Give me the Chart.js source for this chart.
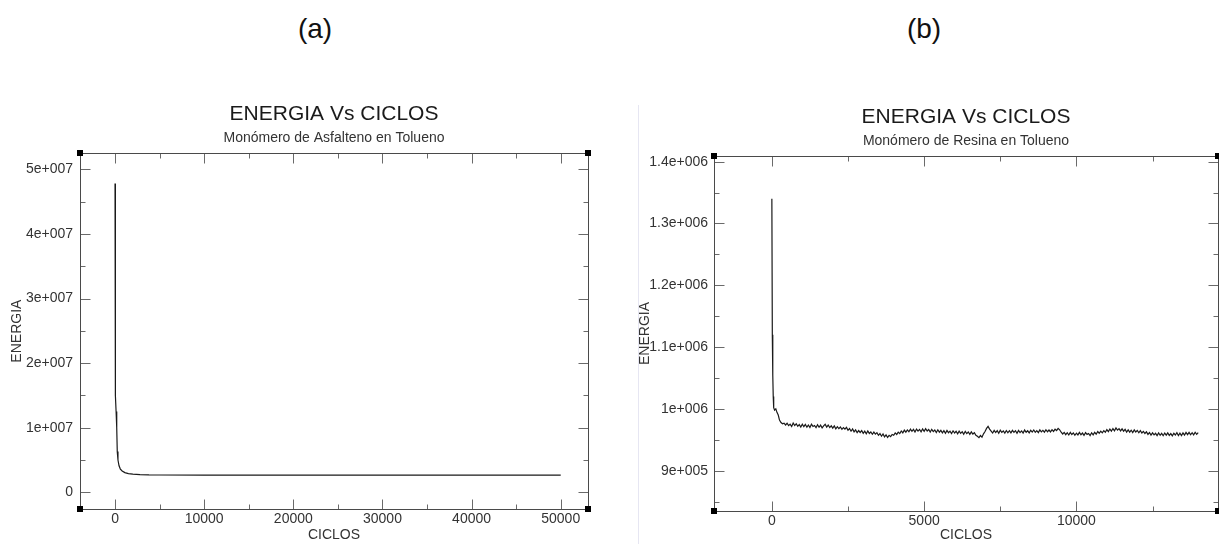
<!DOCTYPE html>
<html lang="es">
<head>
<meta charset="utf-8">
<title>ENERGIA Vs CICLOS</title>
<script src="https://cdn.jsdelivr.net/npm/chart.js@4.4.1/dist/chart.umd.min.js"></script>
<style>
  body { margin: 0; background: #fff; font-family: "Liberation Sans", Arial, sans-serif; }
  .page { position: relative; width: 1219px; height: 544px; overflow: hidden; }
  .panel-label {
    position: absolute;
    top: 15px;
    font-size: 28px;
    line-height: 28px;
    color: #111;
    transform: translateX(-50%);
  }
  .chart-box { position: absolute; top: 90px; }
  .chart-box canvas { display: block; }
  /* borde tenue del recorte de la figura (b) */
  .divisor { position: absolute; left: 638px; top: 105px; width: 1px; height: 439px; background: #e6e6f2; }
</style>
</head>
<body>
<div class="page">
  <div class="panel-label" style="left:315px">(a)</div>
  <div class="panel-label" style="left:924px">(b)</div>
  <div class="divisor"></div>
  <div class="chart-box" style="left:0"><canvas id="energiaAsfalteno" width="610" height="454"></canvas></div>
  <div class="chart-box" style="left:610px"><canvas id="energiaResina" width="609" height="454"></canvas></div>
</div>
<script>
  const FUENTE = '"Liberation Sans", Arial, sans-serif';

  // (a) Monómero de Asfalteno en Tolueno
  const ciclosAsfalteno = [0, 20, 60, 120, 190, 250, 330, 450, 600, 800, 1100, 1500, 2000, 2800, 3800, 5000, 10000, 20000, 30000, 40000, 50000];
  const energiaAsfalteno = [47800000, 22000000, 15000000, 12500000, 10000000, 6300000, 5000000, 4100000, 3600000, 3300000, 3050000, 2900000, 2820000, 2750000, 2700000, 2680000, 2670000, 2660000, 2650000, 2650000, 2650000];
  const ticksXAsfalteno = [0, 10000, 20000, 30000, 40000, 50000];
  const ticksYAsfalteno = [0, 10000000, 20000000, 30000000, 40000000, 50000000];

  // (b) Monómero de Resina en Tolueno
  const ciclosResina = [
    0, 15, 30, 45, 60, 90, 130, 170, 210, 250, 300, 350, 400, 450,
    500, 550, 600, 650, 700, 750, 800, 850, 900, 950,
    1000, 1050, 1100, 1150, 1200, 1250, 1300, 1350, 1400, 1450,
    1500, 1550, 1600, 1650, 1700, 1750, 1800, 1850, 1900, 1950,
    2000, 2050, 2100, 2150, 2200, 2250, 2300, 2350, 2400, 2450,
    2500, 2550, 2600, 2650, 2700, 2750, 2800, 2850, 2900, 2950,
    3000, 3050, 3100, 3150, 3200, 3250, 3300, 3350, 3400, 3450,
    3500, 3550, 3600, 3650, 3700, 3750, 3800, 3850, 3900, 3950,
    4000, 4050, 4100, 4150, 4200, 4250, 4300, 4350, 4400, 4450,
    4500, 4550, 4600, 4650, 4700, 4750, 4800, 4850, 4900, 4950,
    5000, 5050, 5100, 5150, 5200, 5250, 5300, 5350, 5400, 5450,
    5500, 5550, 5600, 5650, 5700, 5750, 5800, 5850, 5900, 5950,
    6000, 6050, 6100, 6150, 6200, 6250, 6300, 6350, 6400, 6450,
    6500, 6550, 6600, 6650, 6700, 6750, 6800, 6850, 6900, 6950,
    7000, 7050, 7100, 7150, 7200, 7250, 7300, 7350, 7400, 7450,
    7500, 7550, 7600, 7650, 7700, 7750, 7800, 7850, 7900, 7950,
    8000, 8050, 8100, 8150, 8200, 8250, 8300, 8350, 8400, 8450,
    8500, 8550, 8600, 8650, 8700, 8750, 8800, 8850, 8900, 8950,
    9000, 9050, 9100, 9150, 9200, 9250, 9300, 9350, 9400, 9450,
    9500, 9550, 9600, 9650, 9700, 9750, 9800, 9850, 9900, 9950,
    10000, 10050, 10100, 10150, 10200, 10250, 10300, 10350, 10400, 10450,
    10500, 10550, 10600, 10650, 10700, 10750, 10800, 10850, 10900, 10950,
    11000, 11050, 11100, 11150, 11200, 11250, 11300, 11350, 11400, 11450,
    11500, 11550, 11600, 11650, 11700, 11750, 11800, 11850, 11900, 11950,
    12000, 12050, 12100, 12150, 12200, 12250, 12300, 12350, 12400, 12450,
    12500, 12550, 12600, 12650, 12700, 12750, 12800, 12850, 12900, 12950,
    13000, 13050, 13100, 13150, 13200, 13250, 13300, 13350, 13400, 13450,
    13500, 13550, 13600, 13650, 13700, 13750, 13800, 13850, 13900, 13950,
    14000
  ];
  const energiaResina = [
    1340000, 1120000, 1055000, 1020000, 1002000, 998000, 1000000, 994000, 990000, 982000, 978000, 976000, 977000, 974000,
    976800, 972900, 975400, 971600, 977200, 973000, 975900, 971800, 974600, 970700,
    975100, 971200, 974800, 970400, 973900, 969800, 975300, 971700, 973200, 969600,
    974500, 970300, 973800, 969400, 972700, 975100, 970600, 973900, 969800, 972600,
    968900, 972400, 967800, 971300, 968100, 970700, 966900, 969800, 967200, 970100,
    965400, 968300, 963900, 967600, 962800, 966100, 961700, 965000, 961900, 964800,
    960500, 963900, 959800, 964200, 960300, 962700, 958900, 962400, 959100, 961600,
    957300, 960200, 955800, 959400, 954600, 957900, 953800, 957100, 955000, 958600,
    957400, 961200, 958700, 962500, 960100, 964300, 961200, 965700, 962400, 966000,
    963100, 967200, 963800, 966900, 962700, 967400, 964000, 966800, 962900, 967500,
    963600, 968100, 964200, 966700, 962500, 967000, 963300, 965900, 961800, 966200,
    962400, 965300, 961100, 964900, 960700, 965200, 961500, 964000, 960200, 964600,
    961000, 963800, 959600, 964100, 960400, 963200, 959100, 963700, 960000, 962600,
    958800, 962900, 959300, 961400, 957200, 955600, 953400, 956900, 954200, 959700,
    963500, 968400, 971600, 967300, 964100, 961000, 965200, 961800, 964900, 960700,
    965600, 962100, 964300, 960900, 965000, 961400, 964700, 961200, 965300, 962000,
    964800, 960600, 965100, 961700, 964400, 961000, 965800, 962200, 964600, 961300,
    965400, 962500, 965900, 962000, 964700, 961600, 966100, 962800, 965200, 962400,
    966300, 963000, 965800, 962700, 966400, 963500, 967100, 965000, 968600, 966200,
    962300, 959400, 962000, 958300, 961500, 957800, 961900, 958600, 961200, 957400,
    960800, 957900, 962100, 958200, 960900, 957100, 961600, 958800, 960300, 956900,
    961400, 958000, 962200, 959100, 963400, 960600, 964000, 961200, 964900, 962300,
    966500, 963200, 967400, 964100, 968200, 964600, 969300, 965700, 968100, 964400,
    967800, 964000, 966900, 962500, 966100, 962300, 965500, 961800, 966000, 962600,
    965200, 961400, 964800, 961000, 963700, 960200, 962900, 958700, 961800, 957600,
    961200, 957900, 960500, 956800, 961000, 957300, 960400, 956600, 960900, 957500,
    961300, 957200, 960100, 956400, 960600, 957800, 961500, 957000, 960800, 956900,
    961200, 957600, 961900, 958300, 962000, 958100, 961400, 957900, 962200, 958800,
    961600
  ];
  const ticksXResina = [0, 5000, 10000];
  const ticksYResina = [900000, 1000000, 1100000, 1200000, 1300000, 1400000];

  // Etiquetas tipo "5e+007", "1.4e+006"
  function formatoCientifico(value) {
    if (value === 0) return "0";
    const exp = Math.floor(Math.log10(Math.abs(value)) + 1e-9);
    const mant = Number((value / Math.pow(10, exp)).toFixed(2));
    return mant + "e+" + String(exp).padStart(3, "0");
  }

  // Marco con marcas hacia adentro en los cuatro lados y cuadritos en las esquinas
  const marcoPlugin = {
    id: "marco",
    afterDatasetsDraw(chart) {
      const { ctx, chartArea: a, scales } = chart;
      const L = Math.round(a.left) + 0.5, R = Math.round(a.right) + 0.5;
      const T = Math.round(a.top) + 0.5, B = Math.round(a.bottom) + 0.5;

      // mayores cada tick, menores a mitad de camino
      const marcas = (scale) => {
        const vals = scale.ticks.map((t) => t.value);
        const paso = vals[1] - vals[0];
        const lista = [[vals[0] - paso / 2, 5]];
        vals.forEach((v) => {
          lista.push([v, 10]);
          lista.push([v + paso / 2, 5]);
        });
        return lista.filter(([v]) => v >= scale.min && v <= scale.max);
      };

      ctx.save();
      ctx.strokeStyle = "#6a6a6a";
      ctx.lineWidth = 1;
      ctx.beginPath();
      marcas(scales.x).forEach(([v, len]) => {
        const px = Math.round(scales.x.getPixelForValue(v)) + 0.5;
        ctx.moveTo(px, B); ctx.lineTo(px, B - len);
        ctx.moveTo(px, T); ctx.lineTo(px, T + len);
      });
      marcas(scales.y).forEach(([v, len]) => {
        const py = Math.round(scales.y.getPixelForValue(v)) + 0.5;
        ctx.moveTo(L, py); ctx.lineTo(L + len, py);
        ctx.moveTo(R, py); ctx.lineTo(R - len, py);
      });
      ctx.stroke();

      ctx.strokeStyle = "#4a4a4a";
      ctx.strokeRect(L, T, R - L, B - T);

      ctx.fillStyle = "#000";
      [[L, T], [R, T], [L, B], [R, B]].forEach(([cx, cy]) => ctx.fillRect(cx - 3.5, cy - 3.5, 6, 6));
      ctx.restore();
    }
  };

  function crearGrafico(id, ciclos, energia, ticksX, ticksY, eje, subtitulo, caja) {
    const canvas = document.getElementById(id);
    return new Chart(canvas, {
      type: "line",
      data: {
        datasets: [{
          data: ciclos.map((c, i) => ({ x: c, y: energia[i] })),
          borderColor: "#1a1a1a",
          borderWidth: 1.2,
          pointRadius: 0,
          tension: 0,
          fill: false
        }]
      },
      options: {
        responsive: false,
        animation: false,
        layout: { padding: { top: 0, left: 0, right: caja.derecha, bottom: 0 } },
        scales: {
          x: {
            type: "linear",
            min: eje.xMin,
            max: eje.xMax,
            grid: { display: false, drawTicks: false },
            border: { display: false },
            afterBuildTicks: (s) => { s.ticks = ticksX.map((v) => ({ value: v })); },
            ticks: {
              padding: 2,
              color: "#333",
              font: { family: FUENTE, size: 14 },
              maxRotation: 0,
              autoSkip: false,
              callback: (v) => String(v)
            },
            title: {
              display: true,
              text: "CICLOS",
              color: "#333",
              font: { family: FUENTE, size: 14 },
              padding: { top: 0, bottom: 0 }
            },
            afterFit: (s) => { s.height = caja.altoX; }
          },
          y: {
            type: "linear",
            min: eje.yMin,
            max: eje.yMax,
            grid: { display: false, drawTicks: false },
            border: { display: false },
            afterBuildTicks: (s) => { s.ticks = ticksY.map((v) => ({ value: v })); },
            ticks: {
              padding: caja.padY,
              color: "#333",
              font: { family: FUENTE, size: 14 },
              autoSkip: false,
              callback: formatoCientifico
            },
            title: {
              display: true,
              text: "ENERGIA",
              color: "#333",
              font: { family: FUENTE, size: 14 },
              padding: { top: caja.tituloY, bottom: 0 }
            },
            afterFit: (s) => { s.width = caja.anchoY; }
          }
        },
        plugins: {
          legend: { display: false },
          tooltip: { enabled: false },
          title: {
            display: true,
            fullSize: false,
            text: "ENERGIA Vs CICLOS",
            color: "#1a1a1a",
            font: { family: FUENTE, size: 21, weight: "normal" },
            padding: { top: caja.arriba, bottom: 0 }
          },
          subtitle: {
            display: true,
            fullSize: false,
            text: subtitulo,
            color: "#333",
            font: { family: FUENTE, size: 14, weight: "normal" },
            padding: { top: 2.4, bottom: caja.bajoSub }
          }
        }
      },
      plugins: [marcoPlugin]
    });
  }

  crearGrafico(
    "energiaAsfalteno", ciclosAsfalteno, energiaAsfalteno, ticksXAsfalteno, ticksYAsfalteno,
    { xMin: -3930, xMax: 53060, yMin: -2585000, yMax: 52480000 },
    "Monómero de Asfalteno en Tolueno",
    { anchoY: 80, derecha: 22, altoX: 35, padY: 7, tituloY: 9, arriba: 12, bajoSub: 6.9 }
  );

  crearGrafico(
    "energiaResina", ciclosResina, energiaResina, ticksXResina, ticksYResina,
    { xMin: -1900, xMax: 14650, yMin: 834800, yMax: 1409200 },
    "Monómero de Resina en Tolueno",
    { anchoY: 104, derecha: 1, altoX: 33, padY: 6, tituloY: 26.6, arriba: 15, bajoSub: 6.6 }
  );
</script>
</body>
</html>
